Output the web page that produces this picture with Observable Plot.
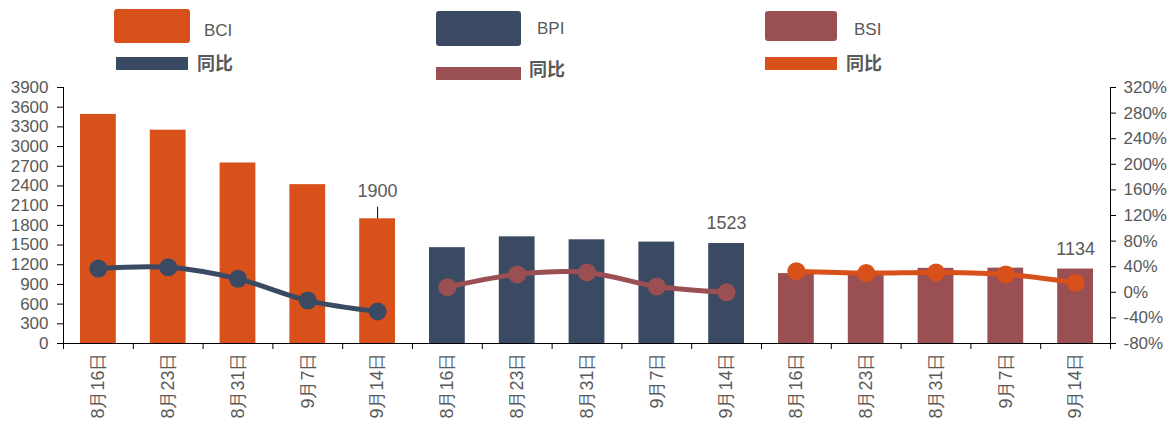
<!DOCTYPE html>
<html>
<head>
<meta charset="utf-8">
<script src="https://cdn.jsdelivr.net/npm/d3@7"></script>
<script src="https://cdn.jsdelivr.net/npm/@observablehq/plot@0.6"></script>
<style>
  html, body { margin: 0; padding: 0; background: #fff; }
  body { width: 1170px; height: 423px; overflow: hidden; font-family: "Liberation Sans", Arial, sans-serif; }
  #legend { position: relative; width: 1170px; height: 70px; }
  #legend .sw { position: absolute; }
  #legend .lb { position: absolute; color: #595959; white-space: nowrap; }
  #legend .cn { font-family: "Noto Sans CJK SC", sans-serif; font-weight: bold; font-size: 18px; line-height: 18px; }
  #legend .en { font-size: 17px; line-height: 17px; }
</style>
</head>
<body>
<div id="legend"></div>
<div id="chart"></div>
<script>
// ---- data ----
const dates = ["8月16日", "8月23日", "8月31日", "9月7日", "9月14日"];
const groups = ["BCI", "BPI", "BSI"];
const bciValues = [3490, 3250, 2750, 2420, 1900];
const bpiValues = [1460, 1625, 1580, 1545, 1523];
const bsiValues = [1065, 1085, 1145, 1148, 1134];
const bciYoy = [37, 39, 21, -13, -30];
const bpiYoy = [8, 28, 31, 9, 0];
const bsiYoy = [33, 30, 31, 28, 15];
const leftTicks = d3.range(0, 3901, 300);
const rightTicks = d3.range(-80, 321, 40);

const barColors = {BCI: "#D8501A", BPI: "#3B4A63", BSI: "#9A4F52"};
const lineColors = {BCI: "#3B4A63", BPI: "#9A4F52", BSI: "#D8501A"};
const textColor = "#595959";

// map right-axis percentage to left-axis units (-80..320 <-> 0..3900)
const toLeft = p => (p + 80) / 400 * 3900;
const toRight = v => v / 3900 * 400 - 80;

const values = {BCI: bciValues, BPI: bpiValues, BSI: bsiValues};
const yoys = {BCI: bciYoy, BPI: bpiYoy, BSI: bsiYoy};
const rows = [];
groups.forEach((g, gi) => dates.forEach((d, di) => {
  rows.push({g, date: d, i: gi * dates.length + di, v: values[g][di], yoy: yoys[g][di], last: di === dates.length - 1});
}));

// ---- legend ----
const legend = document.getElementById("legend");
function sw(x, y, w, h, color, extra = "") {
  const e = document.createElement("div");
  e.className = "sw";
  e.style.cssText = `left:${x}px;top:${y}px;width:${w}px;height:${h}px;background:${color};${extra}`;
  legend.appendChild(e);
}
function lb(x, cy, text, cls, size) {
  const e = document.createElement("div");
  e.className = "lb " + cls;
  e.textContent = text;
  e.style.left = x + "px";
  e.style.top = (cy - size / 2) + "px";
  legend.appendChild(e);
}
const legendItems = [
  {g: "BCI", rx: 114, ry: 9, rw: 76, rh: 34, tx: 204, ty: 30, lx: 116, ly: 57, lw: 72, cx: 197, cy: 62},
  {g: "BPI", rx: 436, ry: 11, rw: 85, rh: 35, tx: 537, ty: 28, lx: 436, ly: 67, lw: 85, cx: 529, cy: 68},
  {g: "BSI", rx: 765, ry: 11, rw: 72, rh: 30, tx: 854, ty: 29, lx: 765, ly: 57, lw: 72, cx: 846, cy: 62}
];
legendItems.forEach(it => {
  sw(it.rx, it.ry, it.rw, it.rh, barColors[it.g], "border-radius:3px;");
  lb(it.tx, it.ty, it.g, "en", 17);
  sw(it.lx, it.ly, it.lw, 13, lineColors[it.g]);
  lb(it.cx, it.cy, "同比", "cn", 18);
});

// ---- chart ----
const bars = groups.map(g => Plot.rectY(rows.filter(r => r.g === g), {
  x1: d => d.i, x2: d => d.i + 1, y: "v", fill: barColors[g], insetLeft: 17, insetRight: 17
}));
const lines = groups.flatMap(g => {
  const data = rows.filter(r => r.g === g);
  return [
    Plot.line(data, {x: d => d.i + 0.5, y: d => toLeft(d.yoy), stroke: lineColors[g], strokeWidth: 5, curve: "catmull-rom"}),
    Plot.dot(data, {x: d => d.i + 0.5, y: d => toLeft(d.yoy), r: 9, fill: lineColors[g]})
  ];
});
const lastRows = rows.filter(r => r.last);
const bciLast = lastRows.filter(r => r.g === "BCI");
const otherLast = lastRows.filter(r => r.g !== "BCI");

const chart = Plot.plot({
  width: 1170,
  height: 353,
  marginLeft: 63,
  marginRight: 60,
  marginTop: 17,
  marginBottom: 80,
  style: {fontFamily: "'Liberation Sans', Arial, sans-serif", fontSize: "17px", color: textColor, background: "#fff"},
  x: {type: "linear", domain: [0, 15], axis: null},
  y: {domain: [0, 3900], axis: null},
  marks: [
    ...bars,
    ...lines,
    Plot.text(bciLast, {x: d => d.i + 0.5, y: "v", text: d => String(d.v), fill: textColor, fontSize: 18, dy: -28}),
    Plot.ruleX(bciLast, {x: d => d.i + 0.5, y1: "v", y2: d => d.v + 175, stroke: "#000", strokeWidth: 1}),
    Plot.text(otherLast, {x: d => d.i + 0.5, y: "v", text: d => String(d.v), fill: textColor, fontSize: 18, dy: -20}),
    Plot.ruleX([0], {stroke: "#000"}),
    Plot.ruleX([15], {stroke: "#000"}),
    Plot.ruleY([0], {stroke: "#000"}),
    Plot.axisY({anchor: "left", ticks: leftTicks, tickSize: 6, tickPadding: 9, stroke: "#000", fill: textColor, label: null, tickFormat: d => String(d)}),
    Plot.axisY({anchor: "right", ticks: rightTicks.map(toLeft), tickSize: 5, tickPadding: 8, stroke: "#000", fill: textColor, label: null,
      tickFormat: v => Math.round(toRight(v)) + "%"}),
    Plot.axisX({anchor: "bottom", ticks: d3.range(0, 16), tickSize: 6, stroke: "#000", tickFormat: () => "", label: null}),
    Plot.axisX({anchor: "bottom", ticks: rows.map(r => r.i + 0.5), tickSize: 0, tickPadding: 9, tickRotate: -90, fill: textColor, label: null,
      tickFormat: v => rows[Math.floor(v)].date, fontSize: 18})
  ]
});
document.getElementById("chart").appendChild(chart);
</script>
</body>
</html>
